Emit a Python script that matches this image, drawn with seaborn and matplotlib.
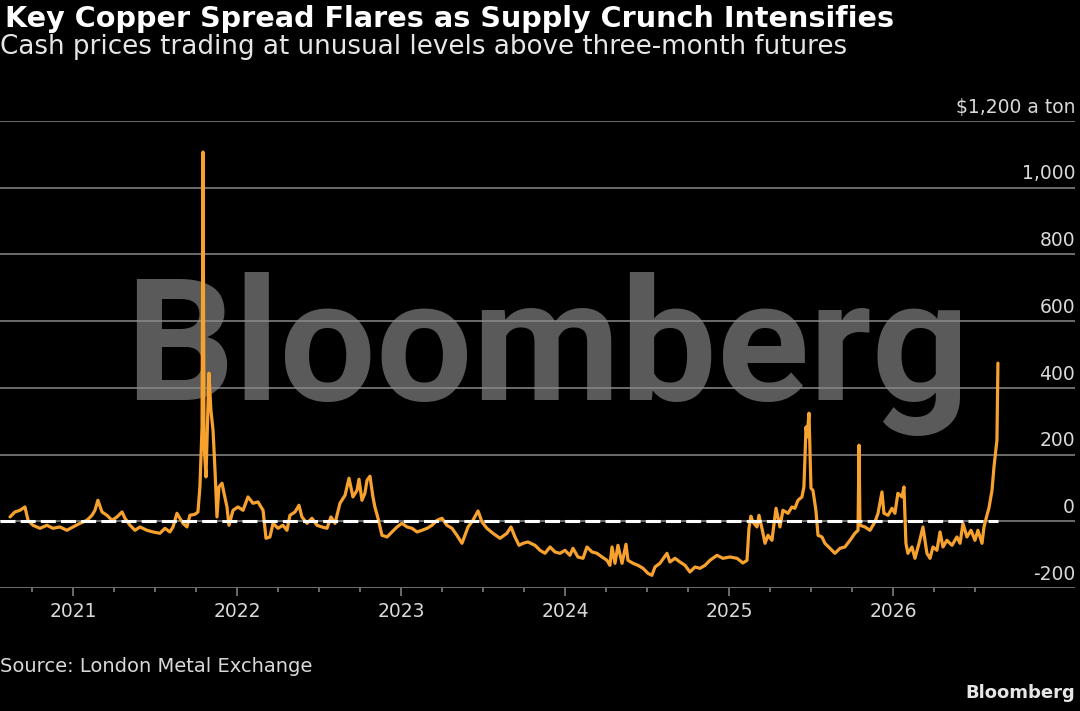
import matplotlib
matplotlib.use("Agg")
import matplotlib.pyplot as plt
import seaborn as sns
import pandas as pd

# LME cash vs three-month copper spread, $ a ton
years = [
    2020.616, 2020.646, 2020.677, 2020.707, 2020.726, 2020.756, 2020.799, 2020.841, 2020.878, 2020.921,
    2020.963, 2021.000, 2021.043, 2021.085, 2021.116, 2021.134, 2021.152, 2021.177, 2021.207, 2021.238,
    2021.268, 2021.299, 2021.317, 2021.348, 2021.378, 2021.409, 2021.451, 2021.488, 2021.530, 2021.561,
    2021.591, 2021.610, 2021.634, 2021.652, 2021.671, 2021.695, 2021.713, 2021.744, 2021.762, 2021.774,
    2021.787, 2021.793, 2021.799, 2021.811, 2021.817, 2021.829, 2021.841, 2021.854, 2021.866, 2021.878,
    2021.890, 2021.909, 2021.921, 2021.939, 2021.951, 2021.976, 2022.006, 2022.037, 2022.067, 2022.098,
    2022.128, 2022.159, 2022.177, 2022.201, 2022.220, 2022.250, 2022.280, 2022.305, 2022.323, 2022.354,
    2022.378, 2022.396, 2022.427, 2022.457, 2022.488, 2022.518, 2022.549, 2022.573, 2022.598, 2022.628,
    2022.659, 2022.683, 2022.707, 2022.732, 2022.744, 2022.762, 2022.780, 2022.793, 2022.811, 2022.829,
    2022.841, 2022.860, 2022.884, 2022.915, 2022.945, 2022.976, 2023.006, 2023.037, 2023.067, 2023.098,
    2023.128, 2023.159, 2023.189, 2023.220, 2023.250, 2023.280, 2023.311, 2023.341, 2023.372, 2023.390,
    2023.409, 2023.439, 2023.470, 2023.494, 2023.524, 2023.561, 2023.604, 2023.646, 2023.671, 2023.695,
    2023.720, 2023.744, 2023.774, 2023.817, 2023.848, 2023.878, 2023.909, 2023.939, 2023.970, 2024.000,
    2024.030, 2024.049, 2024.079, 2024.110, 2024.134, 2024.165, 2024.195, 2024.226, 2024.256, 2024.274,
    2024.287, 2024.305, 2024.323, 2024.348, 2024.372, 2024.384, 2024.415, 2024.445, 2024.476, 2024.506,
    2024.530, 2024.549, 2024.579, 2024.622, 2024.640, 2024.671, 2024.701, 2024.732, 2024.762, 2024.793,
    2024.823, 2024.854, 2024.884, 2024.927, 2024.963, 2025.006, 2025.049, 2025.085, 2025.110, 2025.122,
    2025.134, 2025.146, 2025.171, 2025.183, 2025.201, 2025.220, 2025.238, 2025.262, 2025.287, 2025.311,
    2025.329, 2025.360, 2025.384, 2025.402, 2025.421, 2025.445, 2025.457, 2025.470, 2025.476, 2025.488,
    2025.500, 2025.512, 2025.530, 2025.543, 2025.567, 2025.585, 2025.616, 2025.646, 2025.677, 2025.707,
    2025.738, 2025.768, 2025.787, 2025.793, 2025.799, 2025.829, 2025.860, 2025.890, 2025.909, 2025.933,
    2025.945, 2025.970, 2025.994, 2026.012, 2026.030, 2026.055, 2026.067, 2026.079, 2026.091, 2026.116,
    2026.134, 2026.159, 2026.183, 2026.207, 2026.226, 2026.244, 2026.268, 2026.287, 2026.305, 2026.329,
    2026.360, 2026.390, 2026.409, 2026.427, 2026.451, 2026.476, 2026.500, 2026.518, 2026.543, 2026.555,
    2026.573, 2026.585, 2026.604, 2026.616, 2026.634, 2026.640,
]
spread = [
    13, 28, 33, 43, 3, -12, -21, -12, -21, -17,
    -27, -17, -6, 3, 18, 33, 63, 28, 18, 3,
    13, 28, 9, -12, -27, -17, -27, -32, -36, -21,
    -32, -17, 24, 9, -6, -17, 18, 21, 28, 103,
    283, 1107, 234, 133, 234, 444, 333, 273, 153, 13,
    103, 114, 84, 43, -12, 33, 43, 33, 73, 54,
    58, 33, -51, -47, -6, -21, -12, -27, 18, 28,
    48, 13, -6, 9, -12, -17, -21, 13, -6, 54,
    78, 129, 73, 93, 126, 63, 84, 123, 135, 73,
    43, 9, -42, -47, -32, -17, -6, -17, -21, -32,
    -27, -21, -12, 3, 9, -12, -21, -42, -66, -42,
    -17, 3, 31, -2, -21, -36, -51, -36, -17, -47,
    -72, -66, -62, -72, -87, -96, -77, -92, -96, -87,
    -102, -81, -107, -111, -77, -92, -96, -107, -117, -132,
    -77, -126, -72, -126, -69, -117, -126, -132, -141, -156,
    -162, -137, -126, -96, -122, -111, -122, -132, -152, -137,
    -141, -132, -117, -102, -111, -107, -111, -125, -117, -21,
    15, -2, -17, 18, -21, -66, -42, -57, 39, -17,
    33, 24, 43, 39, 63, 73, 103, 283, 253, 324,
    99, 93, 33, -42, -47, -66, -81, -96, -81, -77,
    -57, -36, -27, 228, -12, -17, -27, -2, 24, 88,
    24, 18, 39, 24, 84, 73, 103, -66, -96, -77,
    -111, -66, -17, -96, -111, -77, -87, -32, -77, -57,
    -72, -47, -66, -6, -47, -27, -57, -27, -66, -17,
    18, 39, 93, 163, 243, 474,
]
year_ticks = [2021, 2022, 2023, 2024, 2025, 2026]
quarter_ticks = [2020.75, 2021.25, 2021.5, 2021.75, 2022.25, 2022.5, 2022.75,
                 2023.25, 2023.5, 2023.75, 2024.25, 2024.5, 2024.75,
                 2025.25, 2025.5, 2025.75, 2026.25, 2026.5]
y_ticks = [-200, 0, 200, 400, 600, 800, 1000, 1200]
y_labels = ["-200", "0", "200", "400", "600", "800", "1,000", "$1,200 a ton"]

df = pd.DataFrame({"year": years, "spread": spread})

sns.set_theme(style="dark")
plt.rcParams["font.family"] = ["DejaVu Sans"]

fig = plt.figure(figsize=(10.8, 7.11), dpi=100, facecolor="black")
ax = fig.add_axes([0, 1 - 588 / 711, 1075 / 1080, 467 / 711])
ax.set_facecolor("black")

# grey watermark behind everything
ax.text(0.507, 1 - 400 / 711, "Bloomberg", transform=fig.transFigure,
        ha="center", va="baseline", fontsize=123, fontweight="bold",
        family=["Roboto", "DejaVu Sans"], color="#5a5a5a", zorder=0.1)

sns.lineplot(data=df, x="year", y="spread", ax=ax, color="#F7A12F",
             linewidth=2.3, zorder=2)

ax.set_xlim(2020.555, 2027.11)
ax.set_ylim(-200, 1200)

# gridlines
ax.set_yticks(y_ticks)
ax.yaxis.grid(True, color="#8a8a8a", linewidth=1.1)
ax.set_axisbelow(True)
ax.tick_params(axis="y", left=False, right=False, labelleft=False)
for val, lab in zip(y_ticks, y_labels):
    ax.annotate(lab, xy=(1, val), xycoords=("axes fraction", "data"),
                xytext=(0, 6), textcoords="offset points",
                ha="right", va="baseline", fontsize=13.5, color="#d9d9d9")

# dashed zero line over the series
ax.hlines(0, 2020.555, years[-1], colors="white", linestyles=(0, (4.9, 1.7)),
          linewidth=2.2, zorder=3)

ax.set_xticks(year_ticks)
ax.set_xticklabels([str(y) for y in year_ticks])
ax.set_xticks(quarter_ticks, minor=True)
ax.tick_params(axis="x", which="major", bottom=True, length=6, width=1.1,
               color="#8a8a8a", pad=4, labelsize=13.5, labelcolor="#d9d9d9")
ax.tick_params(axis="x", which="minor", bottom=True, length=3, width=1.1,
               color="#8a8a8a")
ax.set_xlabel("")
ax.set_ylabel("")
for s in ax.spines.values():
    s.set_visible(False)

fig.text(0.005, 1 - 5 / 711, "Key Copper Spread Flares as Supply Crunch Intensifies",
         ha="left", va="top", fontsize=20.6, fontweight="bold", color="white")
fig.text(0.0, 1 - 34 / 711, "Cash prices trading at unusual levels above three-month futures",
         ha="left", va="top", fontsize=18.8, color="#e6e6e6")
fig.text(0.0, 1 - 672 / 711, "Source: London Metal Exchange",
         ha="left", va="baseline", fontsize=14, color="#d9d9d9")
fig.text(1075 / 1080, 1 - 698 / 711, "Bloomberg",
         ha="right", va="baseline", fontsize=13, fontweight="bold", color="#e6e6e6")

fig.savefig("out.png", dpi=100, facecolor="black")
